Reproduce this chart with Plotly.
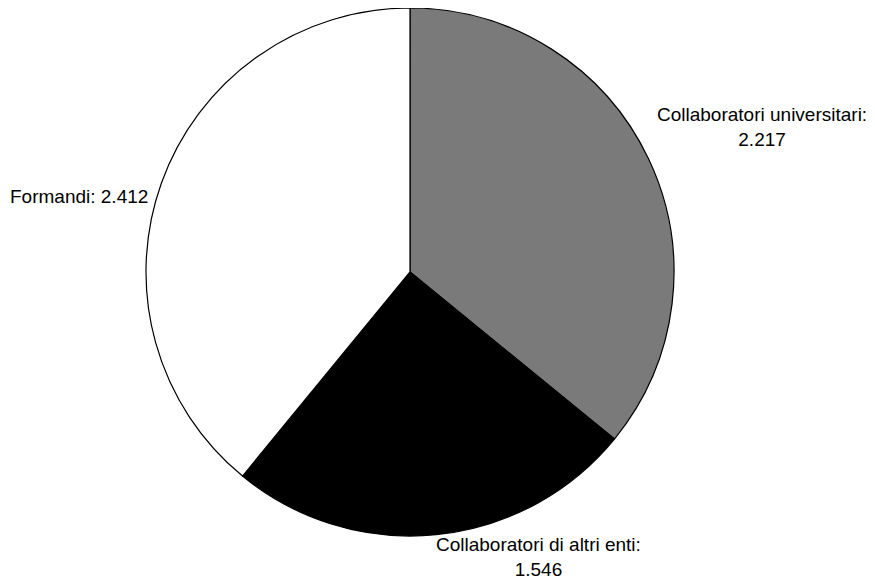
import plotly.graph_objects as go

labels = ["Collaboratori universitari", "Collaboratori di altri enti", "Formandi"]
values = [2217, 1546, 2412]
label_text = ["Collaboratori universitari:<br>2.217", "Collaboratori di altri enti:<br>1.546", "Formandi: 2.412"]
colors = ["#7a7a7a", "#000000", "#ffffff"]

W, H = 875, 580
OFF = 8  # page body margin
# pie geometry (page pixels)
cx, cy, r = 410, 272, 264
# label anchor positions (page pixels) and anchors
label_pos = [(762, 127), (538, 557), (150, 196)]
label_xanchor = ["center", "center", "right"]

fig = go.Figure(go.Pie(
    labels=labels,
    values=values,
    textinfo="none",
    sort=False,
    direction="clockwise",
    rotation=0,
    marker=dict(colors=colors, line=dict(color="#000000", width=1.2)),
    domain=dict(x=[(cx - OFF - r) / W, (cx - OFF + r) / W],
                y=[(H - (cy - OFF) - r) / H, (H - (cy - OFF) + r) / H]),
    showlegend=False,
    hoverinfo="label+value",
))

for txt, (px, py), xa in zip(label_text, label_pos, label_xanchor):
    fig.add_annotation(
        text=txt, xref="paper", yref="paper",
        x=(px - OFF) / W, y=1 - (py - OFF) / H,
        xanchor=xa, yanchor="middle", align="center",
        showarrow=False,
        font=dict(family="Liberation Sans, Arial, sans-serif", size=19, color="#000000"),
    )

fig.update_layout(
    width=W, height=H,
    margin=dict(l=0, r=0, t=0, b=0),
    paper_bgcolor="#ffffff",
    plot_bgcolor="#ffffff",
)

fig.write_html("out.html")
